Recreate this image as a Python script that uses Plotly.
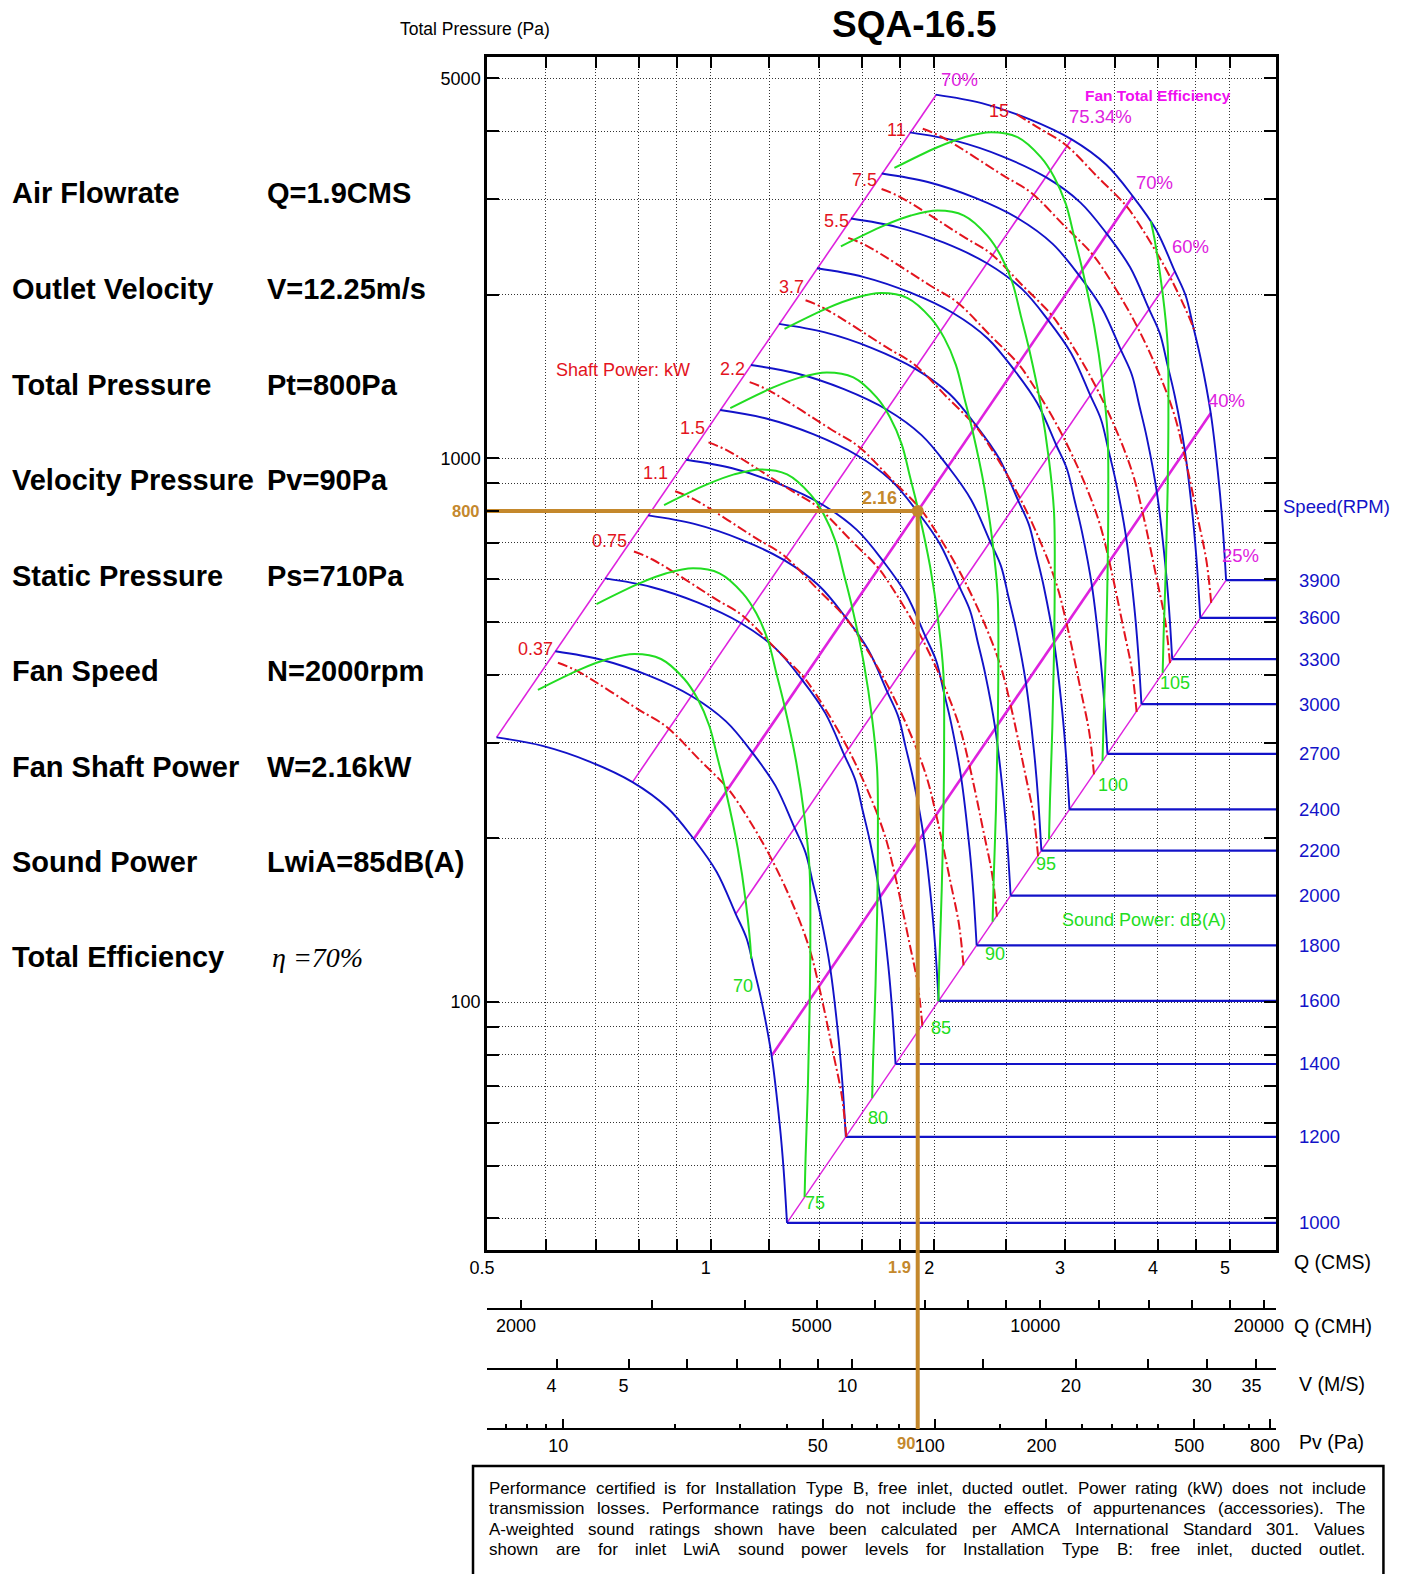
import numpy as np
import plotly.graph_objects as go

# ===================== values =====================
TITLE = "SQA-16.5"

# fan curve at the lowest drawn speed: flow Q (m3/s) vs total pressure (Pa)
BASE_SPEED = 1000
SPEEDS = [1000, 1200, 1400, 1600, 1800, 2000, 2200, 2400, 2700, 3000, 3300, 3600, 3900]
BASE_Q = [0.515, 0.594, 0.687, 0.785, 0.874, 0.949, 1.019, 1.081, 1.118, 1.144, 1.171, 1.208, 1.239, 1.254, 1.267]
BASE_P = [306.9, 296.0, 277.0, 253.9, 228.0, 199.5, 173.5, 145.2, 130.9, 115.0, 100.4, 79.7, 59.4, 49.1, 39.26]

# constant shaft-power line for the smallest motor (0.37 kW)
POWER_REF_KW = 0.37
POWER_REF_Q = [0.623, 0.660, 0.802, 0.872, 0.967, 1.050, 1.083, 1.190, 1.283, 1.355, 1.398, 1.464, 1.501, 1.523]
POWER_REF_P = [420.9, 406.9, 344.4, 320.9, 278.7, 248.9, 235.3, 190.4, 154.0, 126.8, 107.5, 79.9, 67.45, 56.51]
POWER_KW = [0.37, 0.75, 1.1, 1.5, 2.2, 3.7, 5.5, 7.5, 11, 15]

# constant sound-power line for 75 dB(A) and speed ratio of every level to it
SOUND_REF_Q = [0.702, 0.802, 0.872, 0.947, 1.028, 1.105, 1.152, 1.194, 1.226, 1.258, 1.304, 1.338,
               1.359, 1.362, 1.359, 1.352, 1.342, 1.338]
SOUND_REF_P = [539.7, 589.2, 614.8, 627.9, 614.8, 564.8, 518.9, 463.4, 402.4, 349.3, 276.1, 218.2,
               175.2, 132.1, 96.5, 70.5, 51.5, 43.8]
SOUND_DB = [70, 75, 80, 85, 90, 95, 100, 105]
SOUND_SPEED_RATIO = [0.834, 1.0, 1.233, 1.514, 1.791, 2.133, 2.518, 3.034]

# fan total efficiency lines (from the 1000 rpm curve to the 3900 rpm curve)
EFF_LABELS = ["70%", "75.34%", "70%", "60%", "40%", "25%"]
EFF_Q_LOW = [0.515, 0.785, 0.949, 1.081, 1.208, 1.267]
EFF_P_LOW = [306.9, 253.9, 199.5, 145.2, 79.7, 39.26]
EFF_Q_HIGH = [2.012, 3.06, 3.70, 4.215, 4.713, 4.943]
EFF_P_HIGH = [4665, 3860, 3035, 2207, 1212, 597.5]

# selected operating point
OP_Q, OP_V, OP_PT, OP_PV, OP_W = 1.9, 12.25, 800, 90, 2.16
AIR_DENSITY = 1.2

# axis ticks
Q_TICKS = [0.5, 0.6, 0.7, 0.8, 0.9, 1, 1.2, 1.4, 1.6, 1.8, 2, 2.5, 3, 3.5, 4, 4.5, 5]
Q_LABELED = [0.5, 1, 2, 3, 4, 5]
P_TICKS = [40, 50, 60, 70, 80, 90, 100, 200, 300, 400, 500, 600, 700, 800, 900, 1000, 2000, 3000, 4000, 5000]
P_LABELED = [100, 1000, 5000]
CMH_TICKS = [2000, 3000, 4000, 5000, 6000, 7000, 8000, 9000, 10000, 12000, 14000, 16000, 18000, 20000]
CMH_LABELED = [2000, 5000, 10000, 20000]
V_TICKS = [4, 5, 6, 7, 8, 9, 10, 15, 20, 25, 30, 35]
V_LABELED = [4, 5, 10, 20, 30, 35]
PV_MAJOR = [10, 50, 100, 200, 500, 800]
PV_MINOR = [7, 8, 9, 20, 30, 40, 60, 70, 80, 150, 250, 300, 350, 400, 600, 700]

SPEC_NAMES = ["Air Flowrate", "Outlet Velocity", "Total Pressure", "Velocity Pressure", "Static Pressure",
              "Fan Speed", "Fan Shaft Power", "Sound Power", "Total Efficiency"]
SPEC_VALUES = ["Q=1.9CMS", "V=12.25m/s", "Pt=800Pa", "Pv=90Pa", "Ps=710Pa", "N=2000rpm", "W=2.16kW",
               "LwiA=85dB(A)", "\u03b7 =70%"]

NOTE_LINES = [
    "Performance certified is for Installation Type B, free inlet, ducted outlet. Power rating (kW) does not include",
    "transmission losses. Performance ratings do not include the effects of appurtenances (accessories). The",
    "A-weighted sound ratings shown have been calculated per AMCA International Standard 301. Values",
    "shown are for inlet LwiA sound power levels for Installation Type B: free inlet, ducted outlet.",
]

# ===================== page geometry and styles =====================
W, H = 1412, 1574
PLOT_L, PLOT_R, PLOT_T, PLOT_B = 487, 1276.5, 57, 1250
Q_MIN, Q_MAX = 0.5, 5.768
P_MIN, P_MAX = 35.0, 5474


def px_x(px):
    return (px - PLOT_L) / (PLOT_R - PLOT_L)


def px_y(py):
    return (H - py) / (H - PLOT_T)


FONT = "Liberation Sans, Arial, sans-serif"
BLUE = "#1212C8"
RED = "#E3141E"
GREEN = "#22DD22"
MAGENTA = "#DE22DE"
GOLD = "#C4882C"
EFF_WIDTH = [1.6, 1.6, 2.6, 1.6, 2.6, 1.4]
EFF_LABEL_SHIFT = [(23, -15), (29, -23), (22, -14), (16, -25), (16, -13), (14, -25)]
RED_LABEL_SHIFT = [(-22, -14), (-24, -11), (-20, -18), (-16, -14), (-17, -13), (-14, -13),
                   (-12, -17), (-17, -9), (-26, 1), (-18, -3)]
GREEN_LABEL_SHIFT = [(-8, 27), (10, 6), (6, 20), (3, 27), (2, 32), (-3, 25), (10, 24), (12, 10)]

# ===================== fan-law helpers and clipping to the speed range =====================
lq_b = np.log10(BASE_Q)
lk_b = np.log10(np.array(BASE_P) / np.array(BASE_Q) ** 2)
N_MIN, N_MAX = min(SPEEDS), max(SPEEDS)


def speed_of(q, p):
    lk = np.clip(np.log10(p / q ** 2), lk_b[-1], lk_b[0])
    lq0 = np.interp(lk, lk_b[::-1], lq_b[::-1])
    return BASE_SPEED * q / 10 ** lq0


def inside(q, p):
    n = speed_of(q, p)
    return N_MIN * 0.999 <= n <= N_MAX * 1.001


def edge(a, b, a_in):
    la, lb = np.log10(a), np.log10(b)
    lo, hi = 0.0, 1.0
    for _ in range(40):
        m = 0.5 * (lo + hi)
        q, p = 10 ** (la + m * (lb - la))
        if inside(q, p) == a_in:
            lo = m
        else:
            hi = m
    q, p = 10 ** (la + 0.5 * (lo + hi) * (lb - la))
    return (q, p)


def clip(qs, ps):
    pts = list(zip(qs, ps))
    flags = [inside(q, p) for q, p in pts]
    pieces, cur = [], []
    for i, (pt, f) in enumerate(zip(pts, flags)):
        if i > 0 and f != flags[i - 1]:
            cur.append(edge(pts[i - 1], pt, flags[i - 1]))
            if not f:
                pieces.append(cur)
                cur = []
        if f:
            cur.append(pt)
    if cur:
        pieces.append(cur)
    return pieces


fig = go.Figure()
annotations = []


def ann(text, x, y, xref="paper", yref="paper", size=18, color="black", xanchor="center",
        yanchor="middle", xshift=0, yshift=0, family=FONT):
    annotations.append(dict(text=text, x=x, y=y, xref=xref, yref=yref, showarrow=False,
                            font=dict(size=size, color=color, family=family), xanchor=xanchor,
                            yanchor=yanchor, xshift=xshift, yshift=yshift))


# efficiency lines
for i, lab in enumerate(EFF_LABELS):
    fig.add_trace(go.Scatter(x=[EFF_Q_LOW[i], EFF_Q_HIGH[i]], y=[EFF_P_LOW[i], EFF_P_HIGH[i]],
                             mode="lines", line=dict(color=MAGENTA, width=EFF_WIDTH[i]),
                             hoverinfo="skip", showlegend=False))
    dx, dy = EFF_LABEL_SHIFT[i]
    ann(lab, np.log10(EFF_Q_HIGH[i]), np.log10(EFF_P_HIGH[i]), "x", "y", size=18.5, color=MAGENTA,
        xshift=dx, yshift=-dy)

# speed curves (fan laws: Q ~ N, P ~ N^2) and their leaders to the speed labels
bq, bp, lq, lp = [], [], [], []
for n in SPEEDS:
    r = n / BASE_SPEED
    bq += [q * r for q in BASE_Q] + [None]
    bp += [p * r * r for p in BASE_P] + [None]
    lq += [BASE_Q[-1] * r, Q_MAX, None]
    lp += [BASE_P[-1] * r * r, BASE_P[-1] * r * r, None]
    ann(str(n), px_x(1298), np.log10(BASE_P[-1] * r * r), "paper", "y", size=18.5, color=BLUE,
        xanchor="left", yshift=0)
fig.add_trace(go.Scatter(x=bq, y=bp, mode="lines", line=dict(color=BLUE, width=1.9, shape="spline",
                                                           smoothing=1.0),
                         hoverinfo="skip", showlegend=False))
fig.add_trace(go.Scatter(x=lq, y=lp, mode="lines", line=dict(color=BLUE, width=2.2),
                         hoverinfo="skip", showlegend=False))

# shaft power lines (W ~ N^3)
for i, kw in enumerate(POWER_KW):
    r = (kw / POWER_REF_KW) ** (1 / 3)
    pieces = clip([q * r for q in POWER_REF_Q], [p * r * r for p in POWER_REF_P])
    xs, ys = [], []
    for pc in pieces:
        xs += [a for a, _ in pc] + [None]
        ys += [b for _, b in pc] + [None]
    fig.add_trace(go.Scatter(x=xs, y=ys, mode="lines",
                             line=dict(color=RED, width=2.0, dash="10px,3px,2px,3px", shape="spline",
                                       smoothing=1.0),
                             hoverinfo="skip", showlegend=False))
    if pieces:
        q0, p0 = pieces[0][0]
        dx, dy = RED_LABEL_SHIFT[i]
        ann(f"{kw:g}", np.log10(q0), np.log10(p0), "x", "y", size=18, color=RED, xshift=dx, yshift=-dy)

# sound power lines
for i, db in enumerate(SOUND_DB):
    s = SOUND_SPEED_RATIO[i]
    pieces = clip([q * s for q in SOUND_REF_Q], [p * s * s for p in SOUND_REF_P])
    xs, ys = [], []
    for pc in pieces:
        xs += [a for a, _ in pc] + [None]
        ys += [b for _, b in pc] + [None]
    fig.add_trace(go.Scatter(x=xs, y=ys, mode="lines",
                             line=dict(color=GREEN, width=2.0, shape="spline", smoothing=1.0),
                             hoverinfo="skip", showlegend=False))
    if pieces:
        q1, p1 = pieces[-1][-1]
        dx, dy = GREEN_LABEL_SHIFT[i]
        ann(str(db), np.log10(q1), np.log10(p1), "x", "y", size=18, color=GREEN, xshift=dx, yshift=-dy)

# operating point
fig.add_trace(go.Scatter(x=[Q_MIN, OP_Q, OP_Q], y=[OP_PT, OP_PT, P_MIN], mode="lines",
                         line=dict(color=GOLD, width=4), hoverinfo="skip", showlegend=False))
fig.add_trace(go.Scatter(x=[OP_Q], y=[OP_PT], mode="markers",
                         marker=dict(color=GOLD, size=12), hoverinfo="skip", showlegend=False))
ann(f"<b>{OP_W:g}</b>", np.log10(OP_Q), np.log10(OP_PT), "x", "y", size=18, color=GOLD, xshift=-38, yshift=13)
ann(f"<b>{OP_PT:g}</b>", px_x(482), np.log10(OP_PT), "paper", "y", size=16.5, color=GOLD, xanchor="right")
ann(f"<b>{OP_Q:g}</b>", np.log10(OP_Q), px_y(1266.5), "x", "paper", size=16.5, color=GOLD, xshift=-18)
ann(f"<b>{OP_PV:g}</b>", np.log10(OP_Q), px_y(1443), "x", "paper", size=16.5, color=GOLD, xshift=-12)

# derived scales for the auxiliary axes
OUTLET_AREA = OP_Q / OP_V


def q_to_v(q):
    return q / OUTLET_AREA


def q_to_pv(q):
    return 0.5 * AIR_DENSITY * q_to_v(q) ** 2


# dummy traces so that the auxiliary axes are drawn
for ax in ["x2", "x3", "x4"]:
    fig.add_trace(go.Scatter(x=[None], y=[None], xaxis=ax, yaxis="y", mode="markers",
                             hoverinfo="skip", showlegend=False))

# texts
ann(f"<b>{TITLE}</b>", px_x(915), px_y(25), size=37)
ann("Total Pressure (Pa)", px_x(475), px_y(29), size=17.5)
ann("<b>Fan Total Efficiency</b>", px_x(1158), px_y(96), size=15.5, color="#F010F0")
ann("Shaft Power: kW", px_x(623), px_y(370), size=18, color=RED)
ann("Sound Power: dB(A)", px_x(1144), px_y(920), size=18, color=GREEN)
ann("Speed(RPM)", px_x(1337), px_y(506), size=18.5, color=BLUE)
ann("Q (CMS)", px_x(1333), px_y(1262), size=19.5)
ann("Q (CMH)", px_x(1334), px_y(1326), size=19.5)
ann("V (M/S)", px_x(1333), px_y(1384), size=19.5)
ann("Pv (Pa)", px_x(1332), px_y(1442), size=19.5)

ROW_Y = [193, 289, 385, 480, 576, 671, 767, 862, 957]
for name, val, y in zip(SPEC_NAMES, SPEC_VALUES, ROW_Y):
    ann(f"<b>{name}</b>", px_x(10), px_y(y), size=29, xanchor="left")
    if val.startswith("\u03b7"):
        ann(f"<i>{val}</i>", px_x(270), px_y(y), size=28, xanchor="left",
            family="Liberation Serif, Times New Roman, serif")
    else:
        ann(f"<b>{val}</b>", px_x(265), px_y(y), size=29, xanchor="left")

# footnote, justified with Arial (= Liberation Sans) advance widths
AW = {' ': 278, ',': 278, '.': 278, '(': 333, ')': 333, '-': 333, ':': 278, '0': 556, '1': 556, '2': 556,
      '3': 556, '4': 556, '5': 556, '6': 556, '7': 556, '8': 556, '9': 556,
      'A': 667, 'B': 667, 'C': 722, 'D': 722, 'E': 667, 'F': 611, 'G': 778, 'H': 722, 'I': 278, 'J': 500,
      'K': 667, 'L': 556, 'M': 833, 'N': 722, 'O': 778, 'P': 667, 'Q': 778, 'R': 722, 'S': 667, 'T': 611,
      'U': 722, 'V': 667, 'W': 944, 'X': 667, 'Y': 667, 'Z': 611,
      'a': 556, 'b': 556, 'c': 500, 'd': 556, 'e': 556, 'f': 278, 'g': 556, 'h': 556, 'i': 222, 'j': 222,
      'k': 500, 'l': 222, 'm': 833, 'n': 556, 'o': 556, 'p': 556, 'q': 556, 'r': 333, 's': 500, 't': 278,
      'u': 556, 'v': 500, 'w': 722, 'x': 500, 'y': 500, 'z': 500}


def em(s):
    return sum(AW.get(c, 556) for c in s) / 1000.0


NOTE_L, NOTE_R = 489, 1366
NOTE_Y = [1488, 1508.5, 1529, 1549.5]
note_fs = min(17.0, (NOTE_R - NOTE_L) / max(em(l) for l in NOTE_LINES) * 0.995)
for line, y in zip(NOTE_LINES, NOTE_Y):
    words = line.split(" ")
    total = sum(em(w) for w in words) * note_fs
    gap = (NOTE_R - NOTE_L - total) / (len(words) - 1)
    x = NOTE_L
    for w in words:
        annotations.append(dict(text=w, x=px_x(x), y=px_y(y), xref="paper", yref="paper", showarrow=False,
                                xanchor="left", yanchor="middle", borderpad=0, borderwidth=0,
                                font=dict(size=note_fs, color="black", family=FONT)))
        x += em(w) * note_fs + gap

shapes = [
    dict(type="line", xref="x", yref="paper", x0=OP_Q, x1=OP_Q, y0=px_y(PLOT_B), y1=px_y(1429),
         line=dict(color=GOLD, width=4)),
    dict(type="rect", xref="paper", yref="paper", x0=px_x(473), x1=px_x(1384), y0=px_y(1466), y1=px_y(1590),
         line=dict(color="black", width=2.5), fillcolor="rgba(0,0,0,0)"),
]


def labels(vals, shown):
    return [f"{v:g}" if v in shown else "" for v in vals]


tickfont = dict(size=18, color="black", family=FONT)
aux = dict(anchor="free", overlaying="x", side="bottom", ticks="inside", tickcolor="black",
           showline=True, linewidth=2, linecolor="black", showgrid=False, zeroline=False,
           tickfont=tickfont, ticklabelshift=-5)

fig.update_layout(
    width=W, height=H, autosize=False,
    margin=dict(l=PLOT_L, r=W - PLOT_R, t=PLOT_T, b=0, pad=0),
    paper_bgcolor="white", plot_bgcolor="white", showlegend=False, hovermode=False,
    xaxis=dict(type="log", range=[np.log10(Q_MIN), np.log10(Q_MAX)], tickvals=Q_TICKS,
               ticktext=labels(Q_TICKS, Q_LABELED), ticks="inside", ticklen=11, tickwidth=2,
               tickcolor="black", showline=True, linewidth=2.5, linecolor="black", mirror="ticks",
               showgrid=True, gridcolor="#333333", gridwidth=1, griddash="1px,2px", zeroline=False,
               tickfont=tickfont, ticklabelshift=-5),
    yaxis=dict(type="log", range=[np.log10(P_MIN), np.log10(P_MAX)], domain=[px_y(PLOT_B), 1],
               tickvals=P_TICKS, ticktext=labels(P_TICKS, P_LABELED), ticks="inside", ticklen=12,
               tickwidth=2, tickcolor="black", showline=True, linewidth=2.5, linecolor="black",
               mirror="ticks", showgrid=True, gridcolor="#333333", gridwidth=1, griddash="1px,2px",
               zeroline=False, tickfont=tickfont),
    xaxis2=dict(type="log", range=[np.log10(Q_MIN * 3600), np.log10(Q_MAX * 3600)], position=px_y(1309),
                tickvals=CMH_TICKS, ticktext=labels(CMH_TICKS, CMH_LABELED), ticklen=8, tickwidth=1.5, **aux),
    xaxis3=dict(type="log", range=[np.log10(q_to_v(Q_MIN)), np.log10(q_to_v(Q_MAX))], position=px_y(1369),
                tickvals=V_TICKS, ticktext=labels(V_TICKS, V_LABELED), ticklen=9, tickwidth=1.5, **aux),
    xaxis4=dict(type="log", range=[np.log10(q_to_pv(Q_MIN)), np.log10(q_to_pv(Q_MAX))], position=px_y(1429),
                tickvals=PV_MAJOR, ticktext=[f"{v:g}" for v in PV_MAJOR], ticklen=9, tickwidth=1.5,
                minor=dict(tickvals=PV_MINOR, ticks="inside", ticklen=4, tickwidth=1.5, tickcolor="black",
                           showgrid=False), **aux),
    annotations=annotations,
    shapes=shapes,
)

fig.write_html("out.html", config={"displayModeBar": False},
               post_script="document.body.style.margin='0';document.body.style.overflow='hidden';")
